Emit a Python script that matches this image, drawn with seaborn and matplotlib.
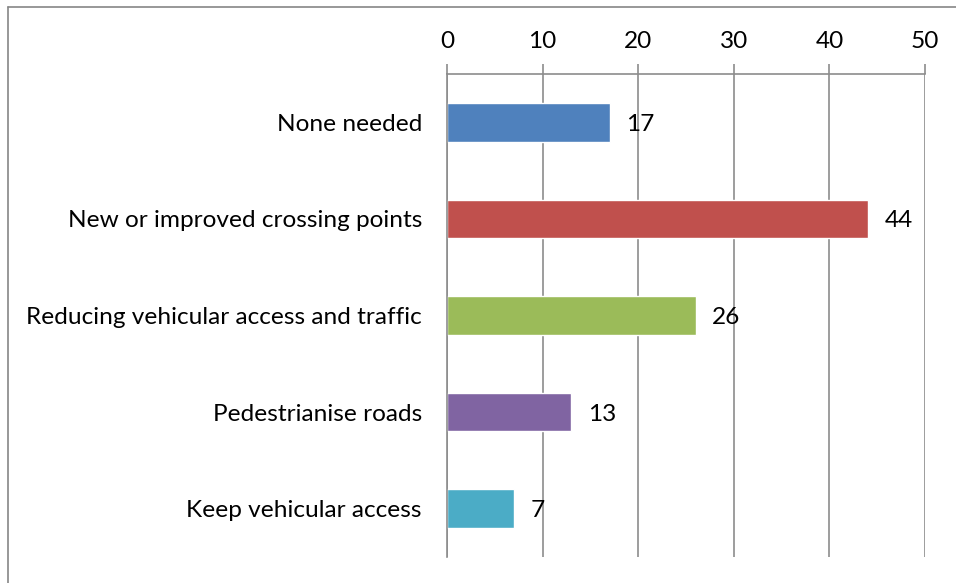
import numpy as np
import matplotlib
matplotlib.use("Agg")
import matplotlib.pyplot as plt
import seaborn as sns
from matplotlib.lines import Line2D

categories = ["None needed", "New or improved crossing points",
              "Reducing vehicular access and traffic", "Pedestrianise roads",
              "Keep vehicular access"]
values = [17, 44, 26, 13, 7]
colors = ["#4F81BD", "#C0504D", "#9BBB59", "#8064A2", "#4BACC6"]
x_ticks = [0, 10, 20, 30, 40, 50]

sns.set_style("white")
plt.rcParams['font.family'] = ['Lato', 'DejaVu Sans']
plt.rcParams['text.color'] = 'black'
plt.rcParams['xtick.labelcolor'] = 'black'
plt.rcParams['ytick.labelcolor'] = 'black'
grid_col = "#8C8C8C"
fs = 17.6

fig = plt.figure(figsize=(9.56, 5.83), dpi=100)
ax = fig.add_axes([447 / 956, 26 / 583, 478 / 956, 483 / 583])

sns.barplot(x=values, y=categories, hue=categories, palette=colors,
            orient="h", width=0.4, legend=False, ax=ax, saturation=1)

ax.set_xlim(0, 50)
ax.set_ylim(4.5, -0.5)
ax.set_xticks(x_ticks)
ax.xaxis.tick_top()
ax.tick_params(axis="x", direction="out", length=7, width=1.2, color=grid_col,
               labelsize=fs, pad=9)
ax.grid(axis="x", color=grid_col, linewidth=1.2)
ax.set_axisbelow(True)

ax.set_yticks(np.arange(len(categories)))
ax.set_yticklabels(categories)
ax.set_yticks(np.arange(-0.5, len(categories), 1), minor=True)
ax.tick_params(axis="y", which="major", length=0, labelsize=fs, pad=18)
ax.tick_params(axis="y", which="minor", direction="out", length=7, width=1.2,
               color=grid_col)
ax.set_xlabel("")
ax.set_ylabel("")

for s in ["bottom", "right"]:
    ax.spines[s].set_visible(False)
for s in ["top", "left"]:
    ax.spines[s].set_color(grid_col)
    ax.spines[s].set_linewidth(1.2)

for c in ax.containers:
    txts = ax.bar_label(c, padding=12, fontsize=fs, color="black")
    for t in txts:
        t.set_va("center_baseline")

# outer chart frame
fig.add_artist(Line2D([8 / 956, 8 / 956], [0, 1 - 7 / 583], transform=fig.transFigure,
                      color="#868686", linewidth=1.2))
fig.add_artist(Line2D([8 / 956, 1], [1 - 7 / 583, 1 - 7 / 583], transform=fig.transFigure,
                      color="#868686", linewidth=1.2))

fig.savefig("out.png", dpi=100)
